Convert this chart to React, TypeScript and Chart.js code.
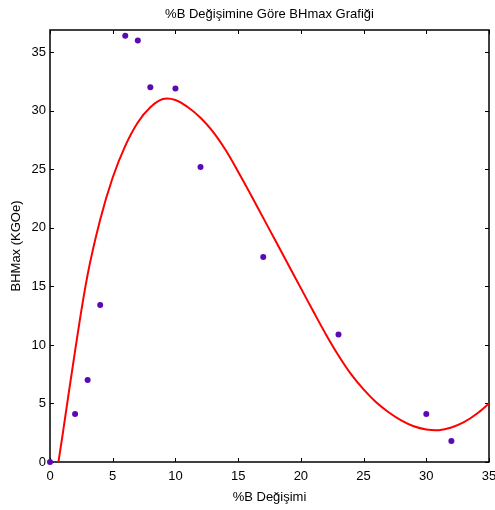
import React, { useEffect, useRef } from "react";
import { Chart, registerables } from "chart.js";

Chart.register(...registerables);

const titleText = "%B Değişimine Göre BHmax Grafiği";
const xTitle = "%B Değişimi";
const yTitle = "BHMax (KGOe)";

const xValues = [0, 2, 3, 4, 6, 7, 8, 10, 12, 17, 23, 30, 32];
const yValues = [0, 4.1, 7.0, 13.4, 36.4, 36.0, 32.0, 31.9, 25.2, 17.5, 10.9, 4.1, 1.8];

const curveX = [0, 1, 2, 3, 4, 5, 6, 7, 8, 9, 10, 11, 12, 13, 14, 15, 16, 17, 18, 19, 20, 21, 22, 23, 24, 25, 26, 27, 28, 29, 30, 31, 32, 33, 34, 35];
const curveY = [-4.7, 2.3, 9.5, 16.0, 20.7, 24.3, 27.0, 29.0, 30.3, 31.0, 30.92, 30.3, 29.4, 28.2, 26.65, 24.8, 22.85, 20.85, 18.85, 16.85, 14.85, 12.85, 10.9, 9.1, 7.5, 6.2, 5.1, 4.25, 3.55, 3.05, 2.78, 2.72, 2.95, 3.4, 4.1, 5.0];

const xTicks = [0, 5, 10, 15, 20, 25, 30, 35];
const yTicks = [0, 5, 10, 15, 20, 25, 30, 35];

const FONT = "'Liberation Sans', Arial, Helvetica, sans-serif";

const framePlugin = {
  id: "frame",
  beforeDatasetsDraw(chart: any) {
    const { ctx, chartArea } = chart;
    const { left, right, top, bottom } = chartArea;
    const xs = chart.scales.x;
    const ys = chart.scales.y;
    ctx.save();
    ctx.strokeStyle = "#000";
    ctx.lineWidth = 1;
    const tl = 4;
    ctx.beginPath();
    xs.ticks.forEach((t: any) => {
      const px = Math.round(xs.getPixelForValue(t.value)) + 0.5;
      ctx.moveTo(px, bottom);
      ctx.lineTo(px, bottom - tl);
      ctx.moveTo(px, top);
      ctx.lineTo(px, top + tl);
    });
    ys.ticks.forEach((t: any) => {
      const py = Math.round(ys.getPixelForValue(t.value)) + 0.5;
      ctx.moveTo(left, py);
      ctx.lineTo(left + tl, py);
      ctx.moveTo(right, py);
      ctx.lineTo(right - tl, py);
    });
    ctx.stroke();
    ctx.lineWidth = 1.5;
    ctx.strokeRect(left, top, right - left, bottom - top);
    ctx.fillStyle = "#000";
    ctx.font = `13px ${FONT}`;
    ctx.textAlign = "center";
    ctx.textBaseline = "middle";
    ctx.fillText(titleText, (left + right) / 2, 14);
    ctx.restore();
  },
};

export default function App() {
  const ref = useRef<HTMLCanvasElement | null>(null);
  useEffect(() => {
    document.body.style.margin = "0";
    const canvas = ref.current;
    if (!canvas) return;
    const chart = new Chart(canvas, {
      type: "scatter",
      data: {
        datasets: [
          {
            label: "fit",
            data: curveX.map((x, i) => ({ x, y: curveY[i] })),
            showLine: true,
            borderColor: "#ff0000",
            borderWidth: 2,
            pointRadius: 0,
            tension: 0.4,
            fill: false,
          },
          {
            label: "data",
            data: xValues.map((x, i) => ({ x, y: yValues[i] })),
            showLine: false,
            pointRadius: 3,
            pointBackgroundColor: "#5a0ab4",
            pointBorderColor: "#5a0ab4",
            pointBorderWidth: 0,
            clip: false as any,
          },
        ],
      },
      options: {
        animation: false,
        responsive: false,
        maintainAspectRatio: false,
        layout: { padding: { top: 30, right: 6, left: 0, bottom: 0 } },
        plugins: {
          legend: { display: false },
          tooltip: { enabled: false },
          title: { display: false },
        },
        scales: {
          x: {
            type: "linear",
            min: 0,
            max: 35,
            afterBuildTicks: (s: any) => {
              s.ticks = xTicks.map((v) => ({ value: v }));
            },
            afterFit: (s: any) => {
              s.height = 48;
              s.paddingLeft = 0;
              s.paddingRight = 0;
            },
            grid: { display: false, drawTicks: false },
            border: { display: false },
            ticks: {
              color: "#000",
              font: { family: FONT, size: 13 },
              padding: 7,
              maxRotation: 0,
            },
            title: {
              display: true,
              text: xTitle,
              color: "#000",
              font: { family: FONT, size: 13 },
              padding: { top: 0, bottom: 5 },
            },
          },
          y: {
            type: "linear",
            min: 0,
            max: 36.9,
            afterBuildTicks: (s: any) => {
              s.ticks = yTicks.map((v) => ({ value: v }));
            },
            afterFit: (s: any) => {
              s.width = 50;
              s.paddingTop = 0;
              s.paddingBottom = 0;
            },
            grid: { display: false, drawTicks: false },
            border: { display: false },
            ticks: {
              color: "#000",
              font: { family: FONT, size: 13 },
              padding: 4,
            },
            title: {
              display: true,
              text: yTitle,
              color: "#000",
              font: { family: FONT, size: 13 },
              padding: { top: 9, bottom: 0 },
            },
          },
        },
      },
      plugins: [framePlugin],
    });
    return () => chart.destroy();
  }, []);
  return (
    <div style={{ width: 495, height: 510, background: "#fff" }}>
      <canvas ref={ref} width={495} height={510} style={{ display: "block" }} />
    </div>
  );
}
